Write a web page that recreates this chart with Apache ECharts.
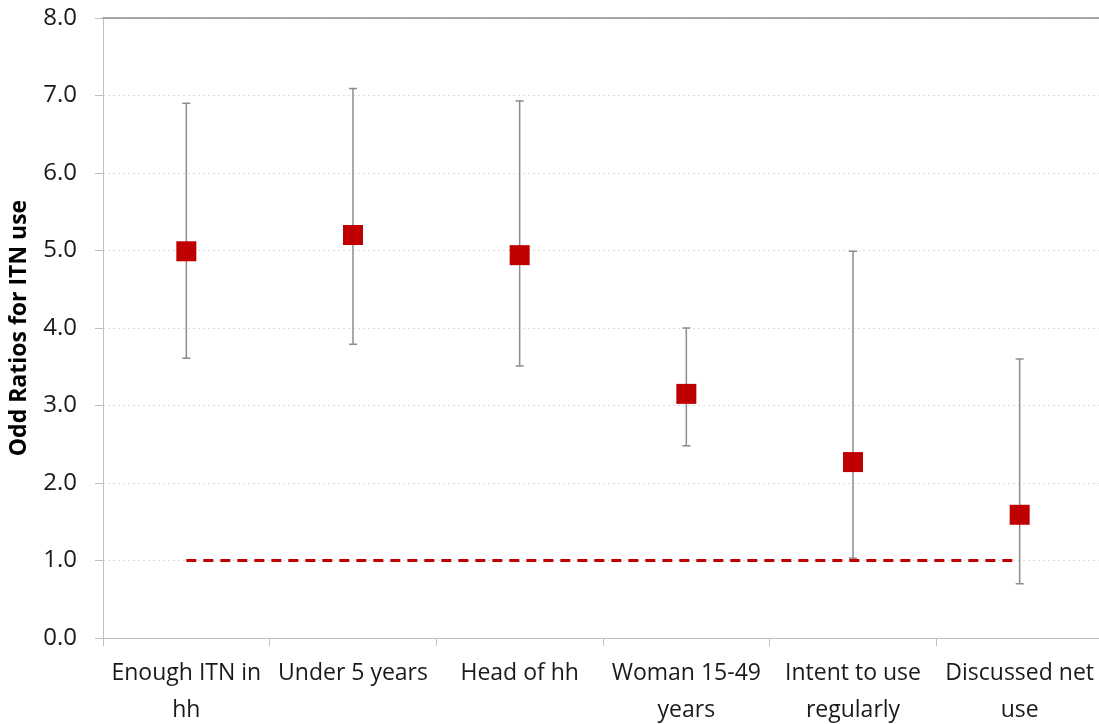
<!DOCTYPE html>
<html>
<head>
<meta charset="utf-8">
<script src="https://cdn.jsdelivr.net/npm/echarts@6/dist/echarts.min.js"></script>
<style>
  html, body { margin: 0; padding: 0; background: #fff; }
  #chart { width: 1099px; height: 724px; }
</style>
</head>
<body>
<div id="chart"></div>
<script>
// Odds ratios with 95% confidence intervals for ITN use
const categories = [
  'Enough ITN in\nhh',
  'Under 5 years',
  'Head of hh',
  'Woman 15-49\nyears',
  'Intent to use\nregularly',
  'Discussed net\nuse'
];
const oddsRatio = [4.99, 5.2, 4.94, 3.15, 2.27, 1.59];
const ciLower   = [3.61, 3.79, 3.51, 2.48, 1.03, 0.70];
const ciUpper   = [6.90, 7.09, 6.93, 4.00, 4.99, 3.60];
const referenceValue = 1.0;
const yTicks = [0, 1, 2, 3, 4, 5, 6, 7, 8];

const FONT = '"Open Sans", "Noto Sans", sans-serif';
const RED = '#C00000';

const errorData = categories.map((c, i) => [i, ciLower[i], ciUpper[i]]);

const chart = echarts.init(document.getElementById('chart'));
chart.setOption({
  animation: false,
  backgroundColor: '#ffffff',
  grid: {
    left: 103, width: 1000, top: 18, bottom: 86,
    containLabel: false, outerBoundsMode: 'none'
  },
  xAxis: [{
    type: 'category',
    data: categories,
    boundaryGap: true,
    axisLine: { lineStyle: { color: '#bfbfbf', width: 1 } },
    axisTick: { show: true, length: 8, lineStyle: { color: '#bfbfbf' } },
    axisLabel: {
      color: '#1a1a1a', fontFamily: FONT, fontSize: 23,
      lineHeight: 37, margin: 17, interval: 0
    },
    splitLine: { show: false }
  }, {
    type: 'category',
    data: categories,
    position: 'top',
    axisLine: { show: true, lineStyle: { color: '#8c8c8c', width: 1.5 } },
    axisTick: { show: false },
    axisLabel: { show: false }
  }],
  yAxis: {
    type: 'value',
    min: yTicks[0],
    max: yTicks[yTicks.length - 1],
    interval: 1,
    name: 'Odd Ratios for ITN use',
    nameLocation: 'middle',
    nameGap: 72,
    nameRotate: 90,
    nameTextStyle: { color: '#000', fontFamily: FONT, fontSize: 23, fontWeight: 'bold' },
    axisLine: { show: true, lineStyle: { color: '#bfbfbf', width: 1 } },
    axisTick: { show: true, length: 8, lineStyle: { color: '#bfbfbf' } },
    axisLabel: {
      color: '#1a1a1a', fontFamily: FONT, fontSize: 24, margin: 26,
      formatter: v => v.toFixed(1)
    },
    splitLine: { show: true, lineStyle: { color: '#dcdcdc', type: [2, 3], width: 1 } }
  },
  series: [
    {
      name: 'Reference',
      type: 'line',
      data: categories.map(() => referenceValue),
      symbol: 'none',
      lineStyle: { color: RED, width: 3, type: [10, 7] },
      z: 2
    },
    {
      name: '95% CI',
      type: 'custom',
      data: errorData,
      encode: { x: 0, y: [1, 2] },
      renderItem: function (params, api) {
        const x = api.value(0);
        const lo = api.coord([x, api.value(1)]);
        const hi = api.coord([x, api.value(2)]);
        const half = 4;
        const style = { stroke: '#8c8c8c', lineWidth: 1.5 };
        return {
          type: 'group',
          children: [
            { type: 'line', shape: { x1: hi[0], y1: hi[1], x2: lo[0], y2: lo[1] }, style },
            { type: 'line', shape: { x1: hi[0] - half, y1: hi[1], x2: hi[0] + half, y2: hi[1] }, style },
            { type: 'line', shape: { x1: lo[0] - half, y1: lo[1], x2: lo[0] + half, y2: lo[1] }, style }
          ]
        };
      },
      z: 3
    },
    {
      name: 'Odds ratio',
      type: 'scatter',
      data: oddsRatio,
      symbol: 'rect',
      symbolSize: 20,
      itemStyle: { color: RED, opacity: 1 },
      z: 4
    }
  ]
});
</script>
</body>
</html>
